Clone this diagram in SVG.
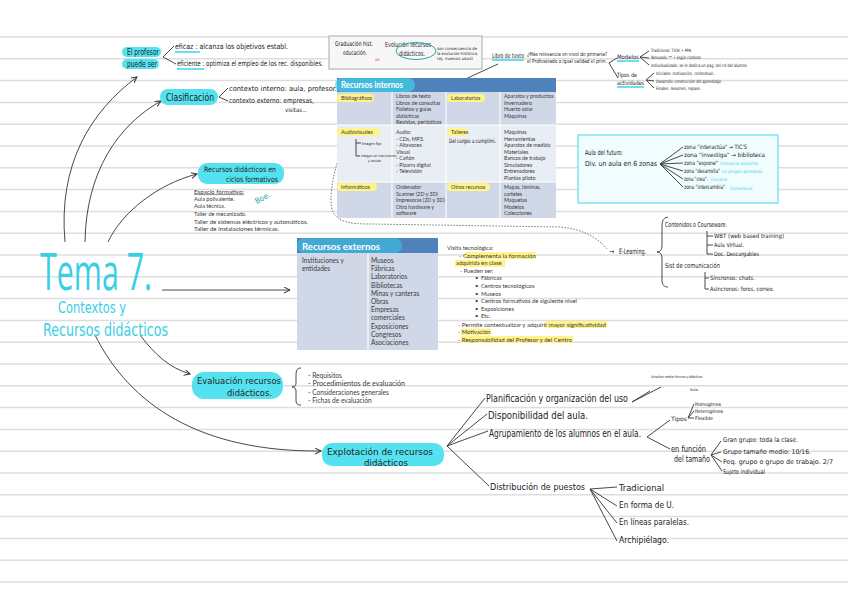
<svg xmlns="http://www.w3.org/2000/svg" width="848" height="599" viewBox="0 0 848 599">
<style>
.hw{font-family:"DejaVu Sans Condensed","Liberation Sans",sans-serif;fill:#222;}
.tb{font-family:Lato,"Open Sans","Liberation Sans",sans-serif;fill:#3a3a3a;}
.hl{fill:#55e2f0;}
.yl{fill:#fff38a;}
.ln{stroke:#333;fill:none;stroke-width:0.9;}
.cy{fill:#38cfe6;}
.uc{stroke:#38d6ea;stroke-width:1.5;fill:none;}
.wt{stroke:#fff;stroke-width:1;}
</style>
<defs>
<marker id="ah" markerWidth="8" markerHeight="8" refX="6" refY="3" orient="auto" markerUnits="userSpaceOnUse">
<path d="M0,0 L6,3 L0,6" fill="none" stroke="#333" stroke-width="1"/>
</marker>
</defs>
<rect width="848" height="599" fill="#fff"/>
<path stroke="#dedede" stroke-width="1.5" d="M0,37H848M0,58.8H848M0,80.6H848M0,102.4H848M0,124.2H848M0,146H848M0,167.8H848M0,189.6H848M0,211.4H848M0,233.2H848M0,255H848M0,276.8H848M0,298.6H848M0,320.4H848M0,342.2H848M0,364H848M0,385.8H848M0,407.6H848M0,429.4H848M0,451.2H848M0,473H848M0,494.8H848M0,516.6H848M0,538.4H848M0,560.2H848M0,582H848"/>

<g id="connectors">
<path class="ln" d="M65,242 C58,165 90,112 137,77" marker-end="url(#ah)"/>
<path class="ln" d="M85,242 C86,172 118,125 161,101" marker-end="url(#ah)"/>
<path class="ln" d="M108,242 C122,212 158,184 197,174" marker-end="url(#ah)"/>
<path class="ln" d="M162,290 L290,290" marker-end="url(#ah)"/>
<path class="ln" d="M140,335 C155,355 170,368 190,374" marker-end="url(#ah)"/>
<path class="ln" d="M95,335 C130,405 200,452 321,451" marker-end="url(#ah)"/>
<path class="ln" d="M498,64 L433,94" marker-end="url(#ah)"/>
<path d="M347,138 C335,160 327,200 333,212 C338,222 350,224 370,224 L560,227 C585,229 600,240 607,249" fill="none" stroke="#777" stroke-width="1" stroke-dasharray="1.5,1.5"/>
</g>

<g id="title">
<text x="40" y="290" font-family="'Open Sans','Liberation Sans',sans-serif" font-size="52" textLength="112" lengthAdjust="spacingAndGlyphs" class="cy">Tema 7.</text>
<text x="58" y="313" class="hw" font-size="15" textLength="68" lengthAdjust="spacingAndGlyphs" style="fill:#38cfe6">Contextos y</text>
<text x="43" y="336" class="hw" font-size="17" textLength="125" lengthAdjust="spacingAndGlyphs" style="fill:#38cfe6">Recursos didácticos</text>
</g>

<g id="profesor">
<rect x="122" y="47" width="39" height="10" rx="5" class="hl"/>
<rect x="122" y="59" width="37" height="10" rx="5" class="hl"/>
<text x="127" y="55" class="hw" font-size="8" textLength="32" lengthAdjust="spacingAndGlyphs">El profesor</text>
<text x="127" y="67" class="hw" font-size="8" textLength="30" lengthAdjust="spacingAndGlyphs">puede ser</text>
<path class="ln" d="M174,46 L163,57 L176,64"/>
<text x="175" y="49" class="hw" font-size="7.5" textLength="113" lengthAdjust="spacingAndGlyphs">eficaz : alcanza los objetivos establ.</text>
<path class="uc" d="M175,52 L200,52"/>
<text x="177" y="66" class="hw" font-size="7.5" textLength="146" lengthAdjust="spacingAndGlyphs">eficiente : optimiza el empleo de los rec. disponibles.</text>
<path class="uc" d="M177,69 L204,69"/>
</g>

<g id="clasificacion">
<rect x="160" y="89" width="58" height="16" rx="8" class="hl"/>
<text x="166" y="101" class="hw" font-size="10" textLength="48" lengthAdjust="spacingAndGlyphs">Clasificación</text>
<path class="ln" d="M228,88 L219,97 L228,101"/>
<text x="229" y="91" class="hw" font-size="7" textLength="108" lengthAdjust="spacingAndGlyphs">contexto interno: aula, profesor.</text>
<text x="229" y="103" class="hw" font-size="7" textLength="85" lengthAdjust="spacingAndGlyphs">contexto externo: empresas,</text>
<text x="285" y="112" class="hw" font-size="6" textLength="22" lengthAdjust="spacingAndGlyphs">visitas...</text>
</g>

<g id="graduacion">
<rect x="329" y="36" width="153" height="33" fill="#f7f7f7" stroke="#aaa" stroke-width="1"/>
<text x="335" y="46" class="hw" font-size="6.5" textLength="38" lengthAdjust="spacingAndGlyphs">Graduación hist.</text>
<text x="343" y="55" class="hw" font-size="6.5" textLength="24" lengthAdjust="spacingAndGlyphs">educación.</text>
<text x="375" y="61" class="hw" font-size="4.5" style="fill:#e03030">vs</text>
<text x="385" y="47" class="hw" font-size="7" textLength="46" lengthAdjust="spacingAndGlyphs">Evolución recursos</text>
<text x="399" y="56" class="hw" font-size="7" textLength="26" lengthAdjust="spacingAndGlyphs">didácticos.</text>
<ellipse cx="416" cy="51" rx="20" ry="8.5" fill="none" stroke="#2fa6a0" stroke-width="1"/>
<text x="437" y="50" class="hw" font-size="4.2" textLength="40" lengthAdjust="spacingAndGlyphs">son consecuencia de</text>
<text x="437" y="55" class="hw" font-size="4.2" textLength="40" lengthAdjust="spacingAndGlyphs">la evolución histórica</text>
<text x="437" y="60" class="hw" font-size="4.2" textLength="36" lengthAdjust="spacingAndGlyphs">(ej. nuevos usos)</text>
</g>

<g id="libro">
<text x="492" y="58" class="hw" font-size="6.5" textLength="32" lengthAdjust="spacingAndGlyphs">Libro de texto</text>
<path class="uc" d="M492,60 L524,60"/>
<text x="527" y="56" class="hw" font-size="5.5" textLength="80" lengthAdjust="spacingAndGlyphs">¿Más relevancia en nivel de primaria?</text>
<text x="527" y="63" class="hw" font-size="5.5" textLength="80" lengthAdjust="spacingAndGlyphs">el Profesorado o igual calidad el prim.</text>
<path class="ln" d="M617,58 L609,63 L618,78"/>
</g>

<g id="modelos">
<text x="617" y="59" class="hw" font-size="6" textLength="22" lengthAdjust="spacingAndGlyphs">Modelos</text>
<path class="uc" d="M617,61 L639,61"/>
<path class="ln" d="M649,51 L640,57 L649,58 M640,57 L649,65"/>
<text x="651" y="52" class="hw" font-size="4.5" textLength="40" lengthAdjust="spacingAndGlyphs">Tradicional. TICH + PPA</text>
<text x="651" y="59" class="hw" font-size="4.5" textLength="50" lengthAdjust="spacingAndGlyphs">Renovado: ** + según contexto</text>
<text x="651" y="67" class="hw" font-size="4.5" textLength="96" lengthAdjust="spacingAndGlyphs">Individualizado: se le dedica un pag. del rol del alumno</text>
<text x="617" y="77" class="hw" font-size="6" textLength="20" lengthAdjust="spacingAndGlyphs">Tipos de</text>
<text x="617" y="85" class="hw" font-size="6" textLength="27" lengthAdjust="spacingAndGlyphs">actividades</text>
<path class="uc" d="M617,87 L644,87"/>
<path class="ln" d="M654,73 L646,80 L654,81 M646,80 L654,88"/>
<text x="656" y="75" class="hw" font-size="4.5" textLength="60" lengthAdjust="spacingAndGlyphs">Iniciales: motivación, contextual...</text>
<text x="656" y="83" class="hw" font-size="4.5" textLength="65" lengthAdjust="spacingAndGlyphs">Desarrollo: construcción del aprendizaje</text>
<text x="656" y="90" class="hw" font-size="4.5" textLength="45" lengthAdjust="spacingAndGlyphs">Finales: resumen, repaso.</text>
</g>

<g id="recursos-internos">
<rect x="337" y="78" width="219" height="14" fill="#4f81bd"/>
<rect x="335" y="78" width="80" height="14" rx="7" fill="#3fd3ea" opacity="0.7"/>
<text x="341" y="88" font-family="Lato,'Open Sans',sans-serif" font-weight="bold" font-size="8.5" fill="#fff" textLength="62" lengthAdjust="spacingAndGlyphs">Recursos internos</text>
<rect x="337" y="92" width="219" height="33" fill="#d0d8e8"/>
<rect x="337" y="125" width="219" height="57" fill="#e9edf4"/>
<rect x="337" y="182" width="219" height="36" fill="#d0d8e8"/>
<path class="wt" d="M392,92V218M446,92V218M500,92V218M337,125H556M337,182H556"/>
<rect x="337" y="94" width="37" height="8" rx="4" class="yl"/>
<rect x="447" y="94" width="38" height="8" rx="4" class="yl"/>
<rect x="337" y="128" width="43" height="8" rx="4" class="yl"/>
<rect x="447" y="128" width="21" height="8" rx="4" class="yl"/>
<rect x="337" y="183" width="40" height="8" rx="4" class="yl"/>
<rect x="447" y="183" width="43" height="8" rx="4" class="yl"/>
<g class="tb" font-size="5.3">
<text x="341" y="100">Bibliográficos</text>
<text x="451" y="100">Laboratorios</text>
<text x="341" y="134">Audiovisuales</text>
<text x="451" y="134">Talleres</text>
<text x="341" y="189">Informáticos</text>
<text x="451" y="189">Otros recursos</text>
<text x="396" y="98">Libros de texto</text>
<text x="396" y="104.6">Libros de consultas</text>
<text x="396" y="111.2">Folletos y guías</text>
<text x="396" y="117.8">didácticas</text>
<text x="396" y="124.2">Revistas, periódicos</text>
<text x="504" y="98">Aparatos y productos</text>
<text x="504" y="104.6">Invernadero</text>
<text x="504" y="111.2">Huerto solar</text>
<text x="504" y="117.8">Máquinas</text>
<text x="396" y="134">Audio:</text>
<text x="396" y="140.5">- CDs, MP3.</text>
<text x="396" y="147">- Altavoces</text>
<text x="396" y="153.5">Visual</text>
<text x="396" y="160">- Cañón</text>
<text x="396" y="166.5">- Pizarra digital</text>
<text x="396" y="173">- Televisión</text>
<text x="504" y="134">Máquinas</text>
<text x="504" y="140.5">Herramientas</text>
<text x="504" y="147">Aparatos de medida</text>
<text x="504" y="153.5">Materiales</text>
<text x="504" y="160">Bancos de trabajo</text>
<text x="504" y="166.5">Simuladores</text>
<text x="504" y="173">Entrenadores</text>
<text x="504" y="179.5">Plantas piloto</text>
<text x="396" y="189">Ordenador</text>
<text x="396" y="195.5">Scanner (2D y 3D)</text>
<text x="396" y="202">Impresoras (2D y 3D)</text>
<text x="396" y="208.5">Otro hardware y</text>
<text x="396" y="215">software</text>
<text x="504" y="189">Mapas, láminas,</text>
<text x="504" y="195.5">carteles</text>
<text x="504" y="202">Maquetas</text>
<text x="504" y="208.5">Modelos</text>
<text x="504" y="215">Colecciones</text>
</g>
<text x="449" y="143" class="hw" font-size="6" textLength="47" lengthAdjust="spacingAndGlyphs">Del cargos a cumplimi.</text>
<path class="ln" stroke-width="0.6" d="M356,139 L356,156 M356,143 L361,143 M356,156 L360,156"/>
<text x="362" y="145" class="hw" font-size="3.8">Imagen fija</text>
<text x="361" y="157" class="hw" font-size="3.4">Imagen en movimiento</text>
<text x="368" y="162" class="hw" font-size="3.4">y sonido</text>
</g>

<g id="aula-futuro">
<rect x="578" y="135" width="200" height="68" fill="#f0fcfe" stroke="#7fe3ef" stroke-width="1.5"/>
<text x="585" y="155" class="hw" font-size="7" textLength="38" lengthAdjust="spacingAndGlyphs">Aula del futuro:</text>
<text x="585" y="166" class="hw" font-size="7" textLength="72" lengthAdjust="spacingAndGlyphs">Div. un aula en 6 zonas</text>
<path class="ln" d="M660,164 L683,147 M660,164 L683,155 M660,164 L683,163 M660,164 L683,171 M660,164 L683,179 M660,164 L683,187"/>
<g class="hw" font-size="6">
<text x="684" y="149" textLength="63" lengthAdjust="spacingAndGlyphs">zona &quot;interactúa&quot; → TIC'S</text>
<text x="684" y="157" textLength="81" lengthAdjust="spacingAndGlyphs">zona &quot;investiga&quot; → biblioteca</text>
<text x="684" y="165" textLength="34" lengthAdjust="spacingAndGlyphs">zona &quot;expone&quot;</text>
<text x="684" y="173" textLength="36" lengthAdjust="spacingAndGlyphs">zona &quot;desarrolla&quot;</text>
<text x="684" y="181" textLength="24" lengthAdjust="spacingAndGlyphs">zona &quot;crea&quot;.</text>
<text x="684" y="189" textLength="41" lengthAdjust="spacingAndGlyphs">zona &quot;intercambia&quot;</text>
</g>
<g class="hw" font-size="4.6">
<text x="720" y="165" textLength="38" lengthAdjust="spacingAndGlyphs" style="fill:#38cfe6">Comunicar proyectos</text>
<text x="722" y="173" textLength="41" lengthAdjust="spacingAndGlyphs" style="fill:#38cfe6">Lo propio personal.</text>
<text x="711" y="181" textLength="17" lengthAdjust="spacingAndGlyphs" style="fill:#38cfe6">Crea obras.</text>
<text x="730" y="189.5" textLength="23" lengthAdjust="spacingAndGlyphs" style="fill:#38cfe6">Comunicar.</text>
</g>
</g>

<g id="ciclos">
<rect x="198" y="163" width="86" height="21" rx="9" class="hl"/>
<text x="204" y="172" class="hw" font-size="7.5" textLength="72" lengthAdjust="spacingAndGlyphs">Recursos didácticos en</text>
<text x="226" y="182" class="hw" font-size="7.5" textLength="52" lengthAdjust="spacingAndGlyphs">ciclos formativos</text>
<g class="tb" font-size="5.6">
<text x="194" y="193.5" text-decoration="underline" textLength="50" lengthAdjust="spacingAndGlyphs">Espacio formativo:</text>
<text x="194" y="200.5">Aula polivalente.</text>
<text x="194" y="208">Aula técnica.</text>
<text x="194" y="215.5">Taller de mecanizado.</text>
<text x="194" y="223.5" textLength="114" lengthAdjust="spacingAndGlyphs">Taller de sistemas eléctricos y automáticos.</text>
<text x="194" y="231" textLength="85" lengthAdjust="spacingAndGlyphs">Taller de instalaciones térmicas.</text>
</g>
<text x="255" y="203" class="hw" font-size="8" transform="rotate(-28 258 200)" style="fill:#2aa9a0">Boe.</text>
</g>

<g id="recursos-externos">
<rect x="297" y="238" width="141" height="15" fill="#4f81bd"/>
<rect x="297" y="238" width="105" height="15" rx="7" fill="#3bc4e2" opacity="0.6"/>
<text x="302" y="249.5" font-family="Lato,'Open Sans',sans-serif" font-weight="bold" font-size="9.5" fill="#fff" textLength="78" lengthAdjust="spacingAndGlyphs">Recursos externos</text>
<rect x="297" y="253" width="141" height="97" fill="#d0d8e8"/>
<path class="wt" d="M368,253V350"/>
<g class="tb" font-size="6.6">
<text x="302" y="263">Instituciones y</text>
<text x="302" y="271">entidades</text>
<text x="371" y="263">Museos</text>
<text x="371" y="271.2">Fábricas</text>
<text x="371" y="279.4">Laboratorios</text>
<text x="371" y="287.6">Bibliotecas</text>
<text x="371" y="295.8">Minas y canteras</text>
<text x="371" y="304">Obras</text>
<text x="371" y="312.2">Empresas</text>
<text x="371" y="320.4">comerciales</text>
<text x="371" y="328.6">Exposiciones</text>
<text x="371" y="336.8">Congresos</text>
<text x="371" y="345">Asociaciones</text>
</g>
</g>

<g id="visita">
<rect x="465" y="252" width="71" height="7" class="yl"/>
<rect x="455" y="260" width="50" height="7" class="yl"/>
<rect x="545" y="321" width="62" height="7" class="yl"/>
<rect x="461" y="328.5" width="30" height="7" class="yl"/>
<rect x="461" y="336" width="112" height="7" class="yl"/>
<g class="tb" font-size="5.8">
<text x="447" y="250">Visita tecnológica:</text>
<text x="459" y="257.5" textLength="77" lengthAdjust="spacingAndGlyphs">- Complementa la formación</text>
<text x="456" y="265">adquirida en clase</text>
<text x="460" y="272.5">- Pueden ser:</text>
<text x="475" y="280">•</text><text x="481" y="280">Fábricas</text>
<text x="475" y="288">•</text><text x="481" y="288">Centros tecnológicos</text>
<text x="475" y="295.5">•</text><text x="481" y="295.5">Museos</text>
<text x="475" y="303">•</text><text x="481" y="303" textLength="96" lengthAdjust="spacingAndGlyphs">Centros formativos de siguiente nivel</text>
<text x="475" y="310.5">•</text><text x="481" y="310.5">Exposiciones</text>
<text x="475" y="318">•</text><text x="481" y="318">Etc.</text>
<text x="458" y="326.5" textLength="148" lengthAdjust="spacingAndGlyphs">- Permite contextualizar y adquirir mayor significatividad</text>
<text x="458" y="334">- Motivación</text>
<text x="458" y="341.5" textLength="114" lengthAdjust="spacingAndGlyphs">- Responsabilidad del Profesor y del Centro</text>
</g>
</g>

<g id="elearning">
<text x="609" y="254" class="hw" font-size="7">→</text>
<text x="619" y="254" class="hw" font-size="7.5" textLength="27" lengthAdjust="spacingAndGlyphs">E-Learning.</text>
<path class="ln" d="M668,217 C662,218 662,222 662,230 L662,245 C662,250 660,252 657,252 C660,252 662,254 662,259 L662,280 C662,285 664,287 668,287"/>
<text x="665" y="227" class="hw" font-size="7" textLength="62" lengthAdjust="spacingAndGlyphs">Contenidos o Courseware.</text>
<path class="ln" d="M707,231 L707,254 M707,236 L713,236 M707,245 L713,245 M707,254 L713,254"/>
<text x="714" y="238" class="hw" font-size="6" textLength="70" lengthAdjust="spacingAndGlyphs">WBT (web based training)</text>
<text x="714" y="247" class="hw" font-size="6" textLength="30" lengthAdjust="spacingAndGlyphs">Aula Virtual.</text>
<text x="714" y="256" class="hw" font-size="6" textLength="45" lengthAdjust="spacingAndGlyphs">Doc. Descargables</text>
<text x="665" y="268" class="hw" font-size="7" textLength="55" lengthAdjust="spacingAndGlyphs">Sist de comunicación</text>
<path class="ln" d="M705,272 L705,289 M705,278 L709,278 M705,289 L709,289"/>
<text x="710" y="280" class="hw" font-size="6" textLength="45" lengthAdjust="spacingAndGlyphs">Síncronos: chats.</text>
<text x="710" y="291" class="hw" font-size="6" textLength="64" lengthAdjust="spacingAndGlyphs">Asíncronos: foros, correo.</text>
</g>

<g id="evaluacion">
<rect x="192" y="372" width="91" height="27" rx="12" class="hl"/>
<text x="197" y="384" class="hw" font-size="9.5" textLength="84" lengthAdjust="spacingAndGlyphs">Evaluación recursos</text>
<text x="227" y="396" class="hw" font-size="9.5" textLength="45" lengthAdjust="spacingAndGlyphs">didácticos.</text>
<path class="ln" d="M301,368 C296,368 296,372 296,378 L296,383 C296,386 294,387 292,387 C294,387 296,388 296,391 L296,399 C296,404 297,405 301,405"/>
<g class="tb" font-size="6.6">
<text x="308" y="377.5">- Requisitos</text>
<text x="308" y="386" textLength="97" lengthAdjust="spacingAndGlyphs">- Procedimientos de evaluación</text>
<text x="308" y="394.5">- Consideraciones generales</text>
<text x="308" y="403">- Fichas de evaluación</text>
</g>
</g>

<g id="explotacion">
<rect x="322" y="443" width="122" height="23" rx="10" class="hl"/>
<text x="327" y="455" class="hw" font-size="9" textLength="106" lengthAdjust="spacingAndGlyphs">Explotación de recursos</text>
<text x="364" y="466" class="hw" font-size="9" textLength="44" lengthAdjust="spacingAndGlyphs">didácticos</text>
<path class="ln" d="M447,446 L485,398 M447,446 L487,414 M447,446 L488,431 M447,446 L489,486"/>
</g>

<g id="planificacion">
<text x="486" y="402" class="hw" font-size="10" textLength="142" lengthAdjust="spacingAndGlyphs">Planificación y organización del uso</text>
<path class="ln" d="M632,402 L650,391 M632,402 L661,387"/>
<text x="651" y="378" class="hw" font-size="3.8" textLength="52" lengthAdjust="spacingAndGlyphs">Actualizar medios técnicos y didácticos.</text>
<text x="662" y="389" class="hw" font-size="5">-</text>
<text x="690" y="391" class="hw" font-size="3.8">Aula.</text>
</g>

<g id="disponibilidad">
<text x="488" y="419" class="hw" font-size="10" textLength="100" lengthAdjust="spacingAndGlyphs">Disponibilidad del aula.</text>
</g>

<g id="agrupamiento">
<text x="489" y="437" class="hw" font-size="10" textLength="152" lengthAdjust="spacingAndGlyphs">Agrupamiento de los alumnos en el aula.</text>
<path class="ln" d="M670,420 L647,437 L670,449"/>
<text x="671" y="421" class="hw" font-size="6" textLength="16" lengthAdjust="spacingAndGlyphs">Tipos</text>
<path class="ln" d="M694,404 L688,418 L694,411 M688,418 L694,418"/>
<text x="695" y="406" class="hw" font-size="5" textLength="26" lengthAdjust="spacingAndGlyphs">Homogénea</text>
<text x="695" y="413" class="hw" font-size="5" textLength="28" lengthAdjust="spacingAndGlyphs">Heterogénea</text>
<text x="695" y="420" class="hw" font-size="5" textLength="18" lengthAdjust="spacingAndGlyphs">Flexible</text>
<text x="671" y="452" class="hw" font-size="8" textLength="35" lengthAdjust="spacingAndGlyphs">en función</text>
<text x="674" y="462" class="hw" font-size="8" textLength="36" lengthAdjust="spacingAndGlyphs">del tamaño</text>
<path class="ln" d="M721,441 L711,455 L721,452 M711,455 L722,462 M711,455 L722,471"/>
<text x="723" y="442" class="hw" font-size="6.5" textLength="75" lengthAdjust="spacingAndGlyphs">Gran grupo: toda la clase.</text>
<text x="723" y="454" class="hw" font-size="6.5" textLength="88" lengthAdjust="spacingAndGlyphs">Grupo tamaño medio: 10/16.</text>
<text x="723" y="464" class="hw" font-size="6.5" textLength="110" lengthAdjust="spacingAndGlyphs">Peq. grupo o grupo de trabajo. 2/7</text>
<text x="723" y="474" class="hw" font-size="6.5" textLength="42" lengthAdjust="spacingAndGlyphs">Sujeto individual</text>
</g>

<g id="distribucion">
<text x="490" y="490" class="hw" font-size="8.5" textLength="95" lengthAdjust="spacingAndGlyphs">Distribución de puestos</text>
<path class="ln" d="M590,489 L617,487 M590,489 L617,506 M590,489 L617,523 M590,489 L617,541"/>
<text x="619" y="491" class="hw" font-size="9.5" textLength="45" lengthAdjust="spacingAndGlyphs">Tradicional</text>
<text x="619" y="508" class="hw" font-size="9.5" textLength="55" lengthAdjust="spacingAndGlyphs">En forma de U.</text>
<text x="619" y="525" class="hw" font-size="9.5" textLength="70" lengthAdjust="spacingAndGlyphs">En líneas paralelas.</text>
<text x="619" y="543" class="hw" font-size="9.5" textLength="50" lengthAdjust="spacingAndGlyphs">Archipiélago.</text>
</g>
</svg>
